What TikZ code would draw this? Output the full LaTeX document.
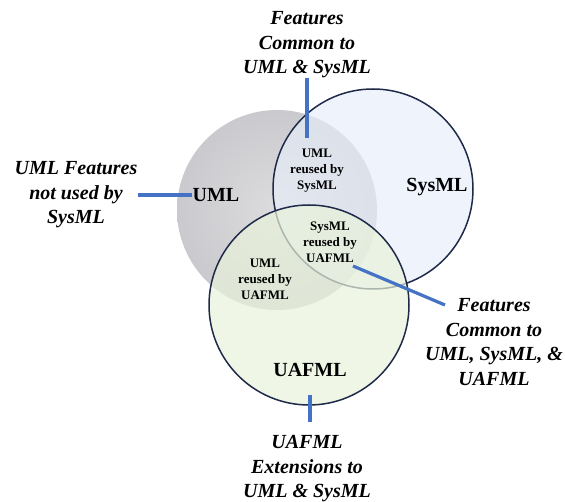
\documentclass[tikz,border=0pt]{standalone}
\usepackage{fontspec}
\setmainfont{Liberation Serif}
\usetikzlibrary{positioning}
\definecolor{leadblue}{HTML}{4472C4}
\definecolor{rimnavy}{HTML}{1F2A4A}
\definecolor{umlin}{HTML}{DCDCDE}
\definecolor{umlout}{HTML}{CACACE}
\definecolor{sysfill}{HTML}{E6EEFA}
\definecolor{uaffill}{HTML}{E8F2DA}

\begin{document}
\begin{tikzpicture}[
  x=1pt, y=-1pt,
  set/.style={circle, minimum size=200pt, inner sep=0pt},
  setname/.style={font=\fontsize{20}{24}\selectfont\bfseries, inner sep=0pt},
  part/.style={align=center, font=\fontsize{13}{16}\selectfont\bfseries, inner sep=0pt},
  note/.style={align=center, font=\fontsize{20}{24.5}\selectfont\bfseries\itshape, inner sep=0pt},
  lead/.style={draw=leadblue, line width=3.2pt}
]
\useasboundingbox (0,0) rectangle (565,502);
% the three sets
\node[set, inner color=umlin, outer color=umlout] (uml) at (277,210) {};
\node[set, fill=sysfill, fill opacity=0.65, draw=rimnavy, line width=1.5pt] (sys) at (373,189) {};
\node[set, fill=uaffill, fill opacity=0.7, draw=rimnavy, line width=1.5pt] (uaf) at (309,305) {};

\node[setname] (umllbl) at (216,195) {UML};
\node[setname] (syslbl) at (437,187) {SysML};
\node[setname] (uaflbl) at (310,370) {UAFML};

% overlaps
\node[part] (umlsys) at (317,171) {UML\\reused by\\SysML};
\node[part] (sysuaf) at (330,242) {SysML\\reused by\\UAFML};
\node[part] (umluaf) at (265,279) {UML\\reused by\\UAFML};

% callouts
\node[note] (topnote) at (307,45) {Features\\Common to\\UML \& SysML};
\node[note] (leftnote) at (76,195) {UML Features\\not used by\\SysML};
\node[note] (rightnote) at (494,342) {Features\\Common to\\UML, SysML, \&\\UAFML};
\node[note] (botnote) at (307,469) {UAFML\\Extensions to\\UML \& SysML};

\coordinate (allin) at (353,266);
\coordinate (allout) at (445,305);

\draw[lead, shorten >=11pt] (topnote.south) -- (topnote.south |- umlsys.north);
\draw[lead] (leftnote.east |- umllbl) -- (umllbl.west);
\draw[lead] (allin) -- (allout);
\draw[lead, shorten <=18pt, shorten >=14pt] (uaflbl.south) -- (uaflbl.south |- botnote.north);
\end{tikzpicture}
\end{document}
